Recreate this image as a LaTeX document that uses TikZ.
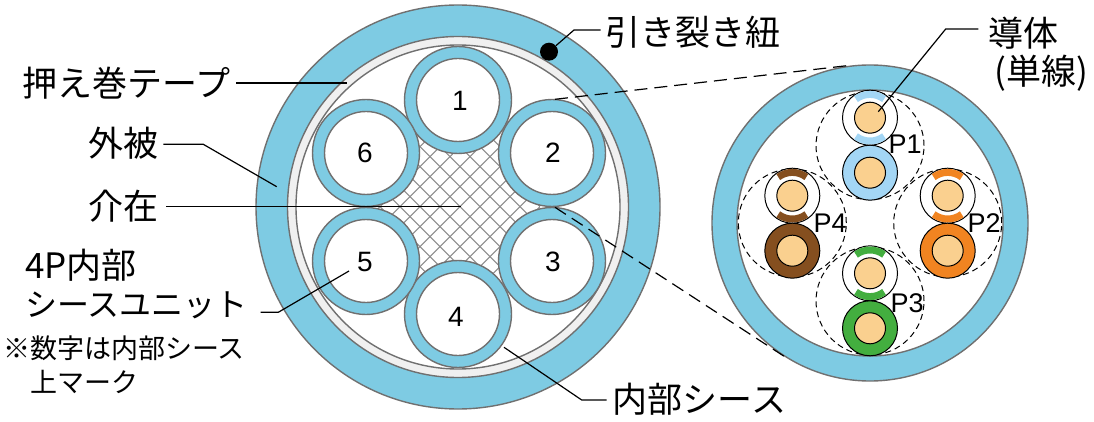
\documentclass[tikz,border=0pt]{standalone}
\usepackage{fontspec}
\setmainfont{Noto Sans CJK JP}
\newfontfamily\numfont{Liberation Sans}
\usetikzlibrary{positioning}
\definecolor{cable-sky}{HTML}{7ECBE3}
\definecolor{cable-tape}{HTML}{F0F0F0}
\definecolor{cable-edge}{HTML}{707070}
\definecolor{core-copper}{HTML}{FAD08F}
\definecolor{pair-blue}{HTML}{A3D6F5}
\definecolor{pair-orange}{HTML}{F18421}
\definecolor{pair-green}{HTML}{43AE3F}
\definecolor{pair-brown}{HTML}{854F1F}

\begin{document}
\begin{tikzpicture}[
  x=1pt, y=-1pt,
  disc/.style={circle, draw=cable-edge, line width=1.4pt, inner sep=0pt, outer sep=0pt},
  wire/.style={circle, draw=black, line width=1pt, inner sep=0pt, outer sep=0pt},
  pairring/.style={circle, draw=black, dash pattern=on 6pt off 4pt, line width=1pt, minimum size=108pt, inner sep=0pt},
  lbl/.style={inner sep=0pt, font=\fontsize{35}{40}\selectfont},
  unitlbl/.style={inner sep=0pt, font=\fontsize{32}{38}\selectfont},
  smalllbl/.style={inner sep=0pt, font=\fontsize{27}{32}\selectfont},
  numlbl/.style={inner sep=0pt, font=\numfont\fontsize{28}{32}\selectfont},
  pairlbl/.style={inner sep=0pt, font=\numfont\fontsize{27}{32}\selectfont},
  leader/.style={draw=black, line width=1.2pt},
  zoomline/.style={draw=black, line width=1.2pt, dash pattern=on 13pt off 7pt},
]
  \useasboundingbox (0,0) rectangle (1094,422);

  % left cable
  \node[disc, fill=cable-sky, minimum size=404pt] (jacket) at (458,207) {};
  \node[disc, fill=cable-tape, minimum size=341pt] (tape) at (458,207) {};
  \node[disc, fill=white, minimum size=324pt] (core) at (458,207) {};
  \begin{scope}
    \clip (458,207) circle (82pt);
    \foreach \k in {-6,...,6} {
      \draw[black!45, line width=1.1pt] (360+20*\k,106.7) -- (560+20*\k,306.7);
      \draw[black!45, line width=1.1pt] (560+20*\k,106.7) -- (360+20*\k,306.7);
    }
  \end{scope}
  \foreach \name/\cx/\cy in {1/458/100, 2/552/153, 3/552/261, 4/458/314, 5/366/261, 6/366/153} {
    \node[disc, fill=cable-sky, minimum size=107pt] (unit\name) at (\cx,\cy) {};
    \node[disc, fill=white, minimum size=83pt] (hole\name) at (\cx,\cy) {};
  }
  \node[numlbl] (num1) at (460,101) {1};
  \node[numlbl] (num2) at (553,153) {2};
  \node[numlbl] (num3) at (553,262) {3};
  \node[numlbl] (num4) at (456,317) {4};
  \node[numlbl] (num5) at (365,262) {5};
  \node[numlbl] (num6) at (365,153) {6};
  \node[circle, fill=black, minimum size=18pt, inner sep=0pt] (ripcord) at (549,51.7) {};

  % right cable
  \node[disc, fill=cable-sky, minimum size=316pt] (zoomjacket) at (870,223) {};
  \node[disc, fill=white, minimum size=266pt] (zoomcore) at (870,223) {};
  \node[pairring] (ringP1) at (870,145.7) {};
  \node[pairring] (ringP2) at (947.7,223) {};
  \node[pairring] (ringP3) at (870,301) {};
  \node[pairring] (ringP4) at (792.3,223) {};
  \foreach \name/\cx/\wy/\cy/\col in {P1/870/117.7/172.7/pair-blue, P2/947.7/195.7/250.7/pair-orange, P3/870/273.3/328.3/pair-green, P4/792.3/195.7/250.7/pair-brown} {
    \node[wire, fill=white, minimum size=55pt] (ins\name) at (\cx,\wy) {};
    \draw[\col, line width=7pt] (\cx,\wy) ++(53:23.3pt) arc[start angle=53, end angle=127, radius=23.3pt];
    \draw[\col, line width=7pt] (\cx,\wy) ++(-53:23.3pt) arc[start angle=-53, end angle=-127, radius=23.3pt];
    \node[wire, fill=core-copper, minimum size=31pt] (cond\name) at (\cx,\wy) {};
    \node[wire, fill=\col, minimum size=55pt] (sheath\name) at (\cx,\cy) {};
    \node[wire, fill=core-copper, minimum size=31pt] (wire\name) at (\cx,\cy) {};
  }
  \node[pairlbl] (labelP1) at (905,144) {P1};
  \node[pairlbl] (labelP2) at (984,223) {P2};
  \node[pairlbl] (labelP3) at (907,303) {P3};
  \node[pairlbl] (labelP4) at (830,223) {P4};

  % labels
  \node[lbl] (ripcordlbl) at (692.5,32) {引き裂き紐};
  \node[lbl] (tapelbl) at (126.5,83) {押え巻テープ};
  \node[lbl] (jacketlbl) at (123,143) {外被};
  \node[lbl] (fillerlbl) at (123,206) {介在};
  \node[lbl, anchor=west] (unitlbla) at (25,265) {4P内部};
  \node[unitlbl, anchor=west] (unitlblb) at (25,305) {シースユニット};
  \node[smalllbl, anchor=west] (notelbl) at (3,348) {※数字は内部シース};
  \node[smalllbl, anchor=west] (notelblb) at (30,382) {上マーク};
  \node[lbl] (sheathlbl) at (699.5,399) {内部シース};
  \node[lbl] (condlbl) at (1023,33) {導体};
  \node[lbl] (solidlbl) at (1041,73) {(単線)};

  % leaders
  \coordinate (ripcordbend) at (574,30);
  \coordinate (ripcordstart) at (600.7,30);
  \coordinate (tapestart) at (236,83);
  \coordinate (tapeend) at (346.7,83);
  \coordinate (jacketstart) at (163.3,144.3);
  \coordinate (jacketbend) at (203.3,144.3);
  \coordinate (jacketend) at (276.7,186.7);
  \coordinate (fillerstart) at (166,206.7);
  \coordinate (fillerend) at (460.7,206.7);
  \coordinate (unitstart) at (260.7,312.3);
  \coordinate (unitbend) at (278.3,312.3);
  \coordinate (unitend) at (349,271);
  \coordinate (sheathstart) at (606.7,400);
  \coordinate (sheathbend) at (581.7,400);
  \coordinate (sheathend) at (504,347.3);
  \coordinate (condstart) at (978.3,29);
  \coordinate (condbend) at (945.7,29);
  \coordinate (condend) at (878.3,111.7);
  \draw[leader] (ripcordstart) -- (ripcordbend) -- (ripcord);
  \draw[leader] (tapestart) -- (tapeend);
  \draw[leader] (jacketstart) -- (jacketbend) -- (jacketend);
  \draw[leader] (fillerstart) -- (fillerend);
  \draw[leader] (unitstart) -- (unitbend) -- (unitend);
  \draw[leader] (sheathstart) -- (sheathbend) -- (sheathend);
  \draw[leader] (condstart) -- (condbend) -- (condend);

  % zoom lines
  \coordinate (zoomtopa) at (555,99.3);
  \coordinate (zoomtopb) at (853,65);
  \coordinate (zoombota) at (555,207.3);
  \coordinate (zoombotb) at (786.7,358);
  \draw[zoomline] (zoomtopa) -- (zoomtopb);
  \draw[zoomline] (zoombota) -- (zoombotb);
\end{tikzpicture}
\end{document}
